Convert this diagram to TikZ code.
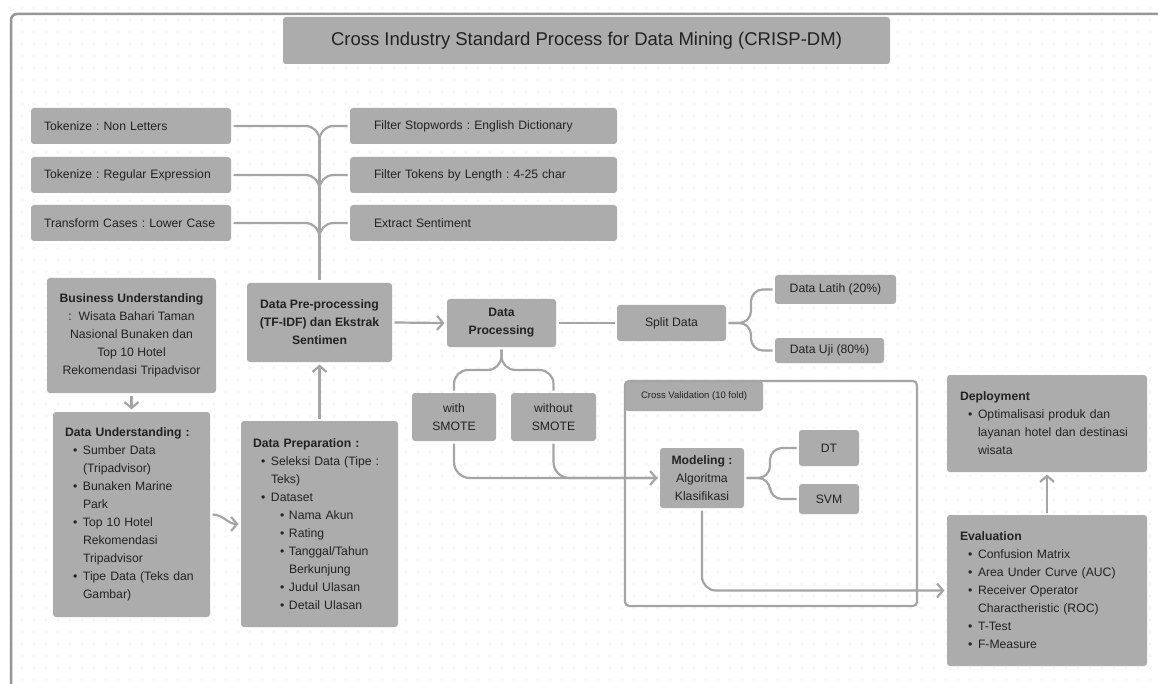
\documentclass[tikz,border=0pt]{standalone}
\usepackage{fontspec}
\setmainfont{Liberation Sans}
\usetikzlibrary{arrows.meta}
\frenchspacing

\definecolor{boxgray}{RGB}{172,172,172}
\definecolor{linegray}{RGB}{165,165,165}
\definecolor{framegray}{RGB}{150,150,150}
\definecolor{dotgray}{RGB}{212,212,212}
\definecolor{ink}{RGB}{34,34,34}

% bullet lines inside the boxes
\newcommand{\itm}{\hspace*{8pt}\makebox[10pt][l]{\textbullet}}
\newcommand{\itc}{\hspace*{18pt}}
\newcommand{\itmm}{\hspace*{27pt}\makebox[9pt][l]{\textbullet}}
\newcommand{\itcc}{\hspace*{36pt}}

\tikzset{
  box/.style={fill=boxgray, rounded corners=3pt, inner sep=0pt, outer sep=2.5pt,
    text=ink, font=\fontsize{12.2}{18}\selectfont, align=center},
  lbox/.style={box, align=left},
  boldbox/.style={box, font=\fontsize{12.2}{18}\selectfont\bfseries},
  link/.style={draw=linegray, line width=2.2pt},
  arrow/.style={link, -{Straight Barb[length=6pt,width=14pt]}},
}

\begin{document}
\begin{tikzpicture}[x=1pt, y=-1pt]
    \useasboundingbox (0,0) rectangle (1158,684);
    \clip (0,0) rectangle (1158,684);
    \fill[white] (0,0) rectangle (1158,684);
    % dotted canvas
    \foreach \x in {10,22,...,1150} {
        \foreach \y in {8,20,...,680} {
            \fill[dotgray] (\x,\y) circle (0.7pt);
        }
    }
    \draw[draw=framegray, line width=2.5pt, rounded corners=6pt] (11,700) -- (11,14) -- (1175,14);

    \node[box, minimum width=607, minimum height=47, font=\fontsize{18.5}{22}\selectfont] (title) at (586.5,40.5) {Cross Industry Standard Process for Data Mining (CRISP-DM)};

    % pre-processing operators
    \node[lbox, minimum width=200, minimum height=36, text width=174] (tk1) at (131,126) {Tokenize : Non Letters};
    \node[lbox, minimum width=200, minimum height=36, text width=174] (tk2) at (131,175) {Tokenize : Regular Expression};
    \node[lbox, minimum width=200, minimum height=36, text width=174] (tk3) at (131,223) {Transform Cases : Lower Case};
    \node[lbox, minimum width=267, minimum height=36, text width=219] (fs1) at (483.5,126) {Filter Stopwords : English Dictionary};
    \node[lbox, minimum width=267, minimum height=36, text width=219] (fs2) at (483.5,175) {Filter Tokens by Length : 4-25 char};
    \node[lbox, minimum width=267, minimum height=36, text width=219] (fs3) at (483.5,223) {Extract Sentiment};

    \node[boldbox, minimum width=145, minimum height=79] (pre) at (319.5,322.5) {Data Pre-processing\\(TF-IDF) dan Ekstrak\\Sentimen};
    \node[boldbox, minimum width=109, minimum height=48] (proc) at (501.5,323) {Data\\Processing};
    \node[box, minimum width=109, minimum height=36] (split) at (671.5,323) {Split Data};
    \node[box, minimum width=121, minimum height=29] (latih) at (835.5,289.5) {Data Latih (20\%)};
    \node[box, minimum width=109, minimum height=25] (uji) at (829.5,350.5) {Data Uji (80\%)};
    \node[box, minimum width=84, minimum height=48] (wth) at (454,417) {with\\SMOTE};
    \node[box, minimum width=85, minimum height=48] (wo) at (553.5,417) {without\\SMOTE};

    % cross validation frame
    \node[box, anchor=north west, outer sep=0pt, minimum width=138, minimum height=30, font=\fontsize{9.5}{11}\selectfont] (cv) at (625,381) {Cross Validation (10 fold)};
    \draw[link, rounded corners=4pt] (625,381) rectangle (917,606);
    \node[box, minimum width=84, minimum height=60] (mod) at (702,478) {\textbf{Modeling :}\\Algoritma\\Klasifikasi};
    \node[box, minimum width=60, minimum height=36] (dt) at (829,448) {DT};
    \node[box, minimum width=60, minimum height=30] (svm) at (829,499) {SVM};

    \node[lbox, minimum width=200, minimum height=97, text width=174] (dep) at (1047,423.5) {{\bfseries Deployment}\\
        \itm Optimalisasi produk dan\\ \itc layanan hotel dan destinasi\\ \itc wisata};
    \node[lbox, minimum width=200, minimum height=151, text width=174] (eva) at (1047,590.5) {{\bfseries Evaluation}\\
        \itm Confusion Matrix\\ \itm Area Under Curve (AUC)\\ \itm Receiver Operator\\ \itc Charactheristic (ROC)\\
        \itm T-Test\\ \itm F-Measure};

    \node[box, minimum width=169, minimum height=115] (bu) at (131.5,335.5) {{\bfseries Business Understanding}\\:\ \ Wisata Bahari Taman\\Nasional Bunaken dan\\Top 10 Hotel\\Rekomendasi Tripadvisor};
    \node[lbox, minimum width=157, minimum height=205, text width=133] (du) at (131.5,514.5) {{\bfseries Data Understanding :}\\
        \itm Sumber Data\\ \itc (Tripadvisor)\\ \itm Bunaken Marine\\ \itc Park\\ \itm Top 10 Hotel\\ \itc Rekomendasi\\
        \itc Tripadvisor\\ \itm Tipe Data (Teks dan\\ \itc Gambar)};
    \node[lbox, minimum width=157, minimum height=206, text width=133] (dp) at (319.5,524) {{\bfseries Data Preparation :}\\
        \itm Seleksi Data (Tipe :\\ \itc Teks)\\ \itm Dataset\\ \itmm Nama Akun\\ \itmm Rating\\ \itmm Tanggal/Tahun\\
        \itcc Berkunjung\\ \itmm Judul Ulasan\\ \itmm Detail Ulasan};

    % operators join into one trunk
    \coordinate (m1) at (319.5,140);
    \coordinate (m2) at (319.5,189);
    \coordinate (m3) at (319.5,237);
    \draw[link, rounded corners=14pt] (tk1.east) -| (m1);
    \draw[link, rounded corners=14pt] (tk2.east) -| (m2);
    \draw[link, rounded corners=14pt] (tk3.east) -| (m3);
    \draw[link, rounded corners=14pt] (fs1.west) -| (m1);
    \draw[link, rounded corners=14pt] (fs2.west) -| (m2);
    \draw[link, rounded corners=14pt] (fs3.west) -| (m3);
    \draw[link] (m1) -- (pre.north);

    \draw[arrow] (bu.south) -- (du.north);
    \draw[arrow] (du.east) to[out=0, in=180] (dp.west);
    \draw[arrow] (dp.north) -- (pre.south);
    \draw[arrow] (pre.east) -- (proc.west);
    \draw[link] (proc.east) -- (split.west);

    \coordinate (sfork) at (751,323);
    \draw[link, rounded corners=12pt] (split.east) -- (sfork) |- (latih.west);
    \draw[link, rounded corners=12pt] (split.east) -- (sfork) |- (uji.west);

    \coordinate (pfork) at (501.5,370);
    \draw[link, rounded corners=14pt] (proc.south) -- (pfork) -| (wth.north);
    \draw[link, rounded corners=14pt] (proc.south) -- (pfork) -| (wo.north);
    \draw[link, rounded corners=16pt] (wo.south) |- (mod.west);
    \draw[arrow, rounded corners=16pt] (wth.south) |- (mod.west);

    \coordinate (mfork) at (770,478);
    \draw[link, rounded corners=12pt] (mod.east) -- (mfork) |- (dt.west);
    \draw[link, rounded corners=12pt] (mod.east) -- (mfork) |- (svm.west);

    \draw[arrow, rounded corners=14pt] (mod.south) |- (eva.west);
    \draw[arrow] (eva.north) -- (dep.south);
\end{tikzpicture}
\end{document}
